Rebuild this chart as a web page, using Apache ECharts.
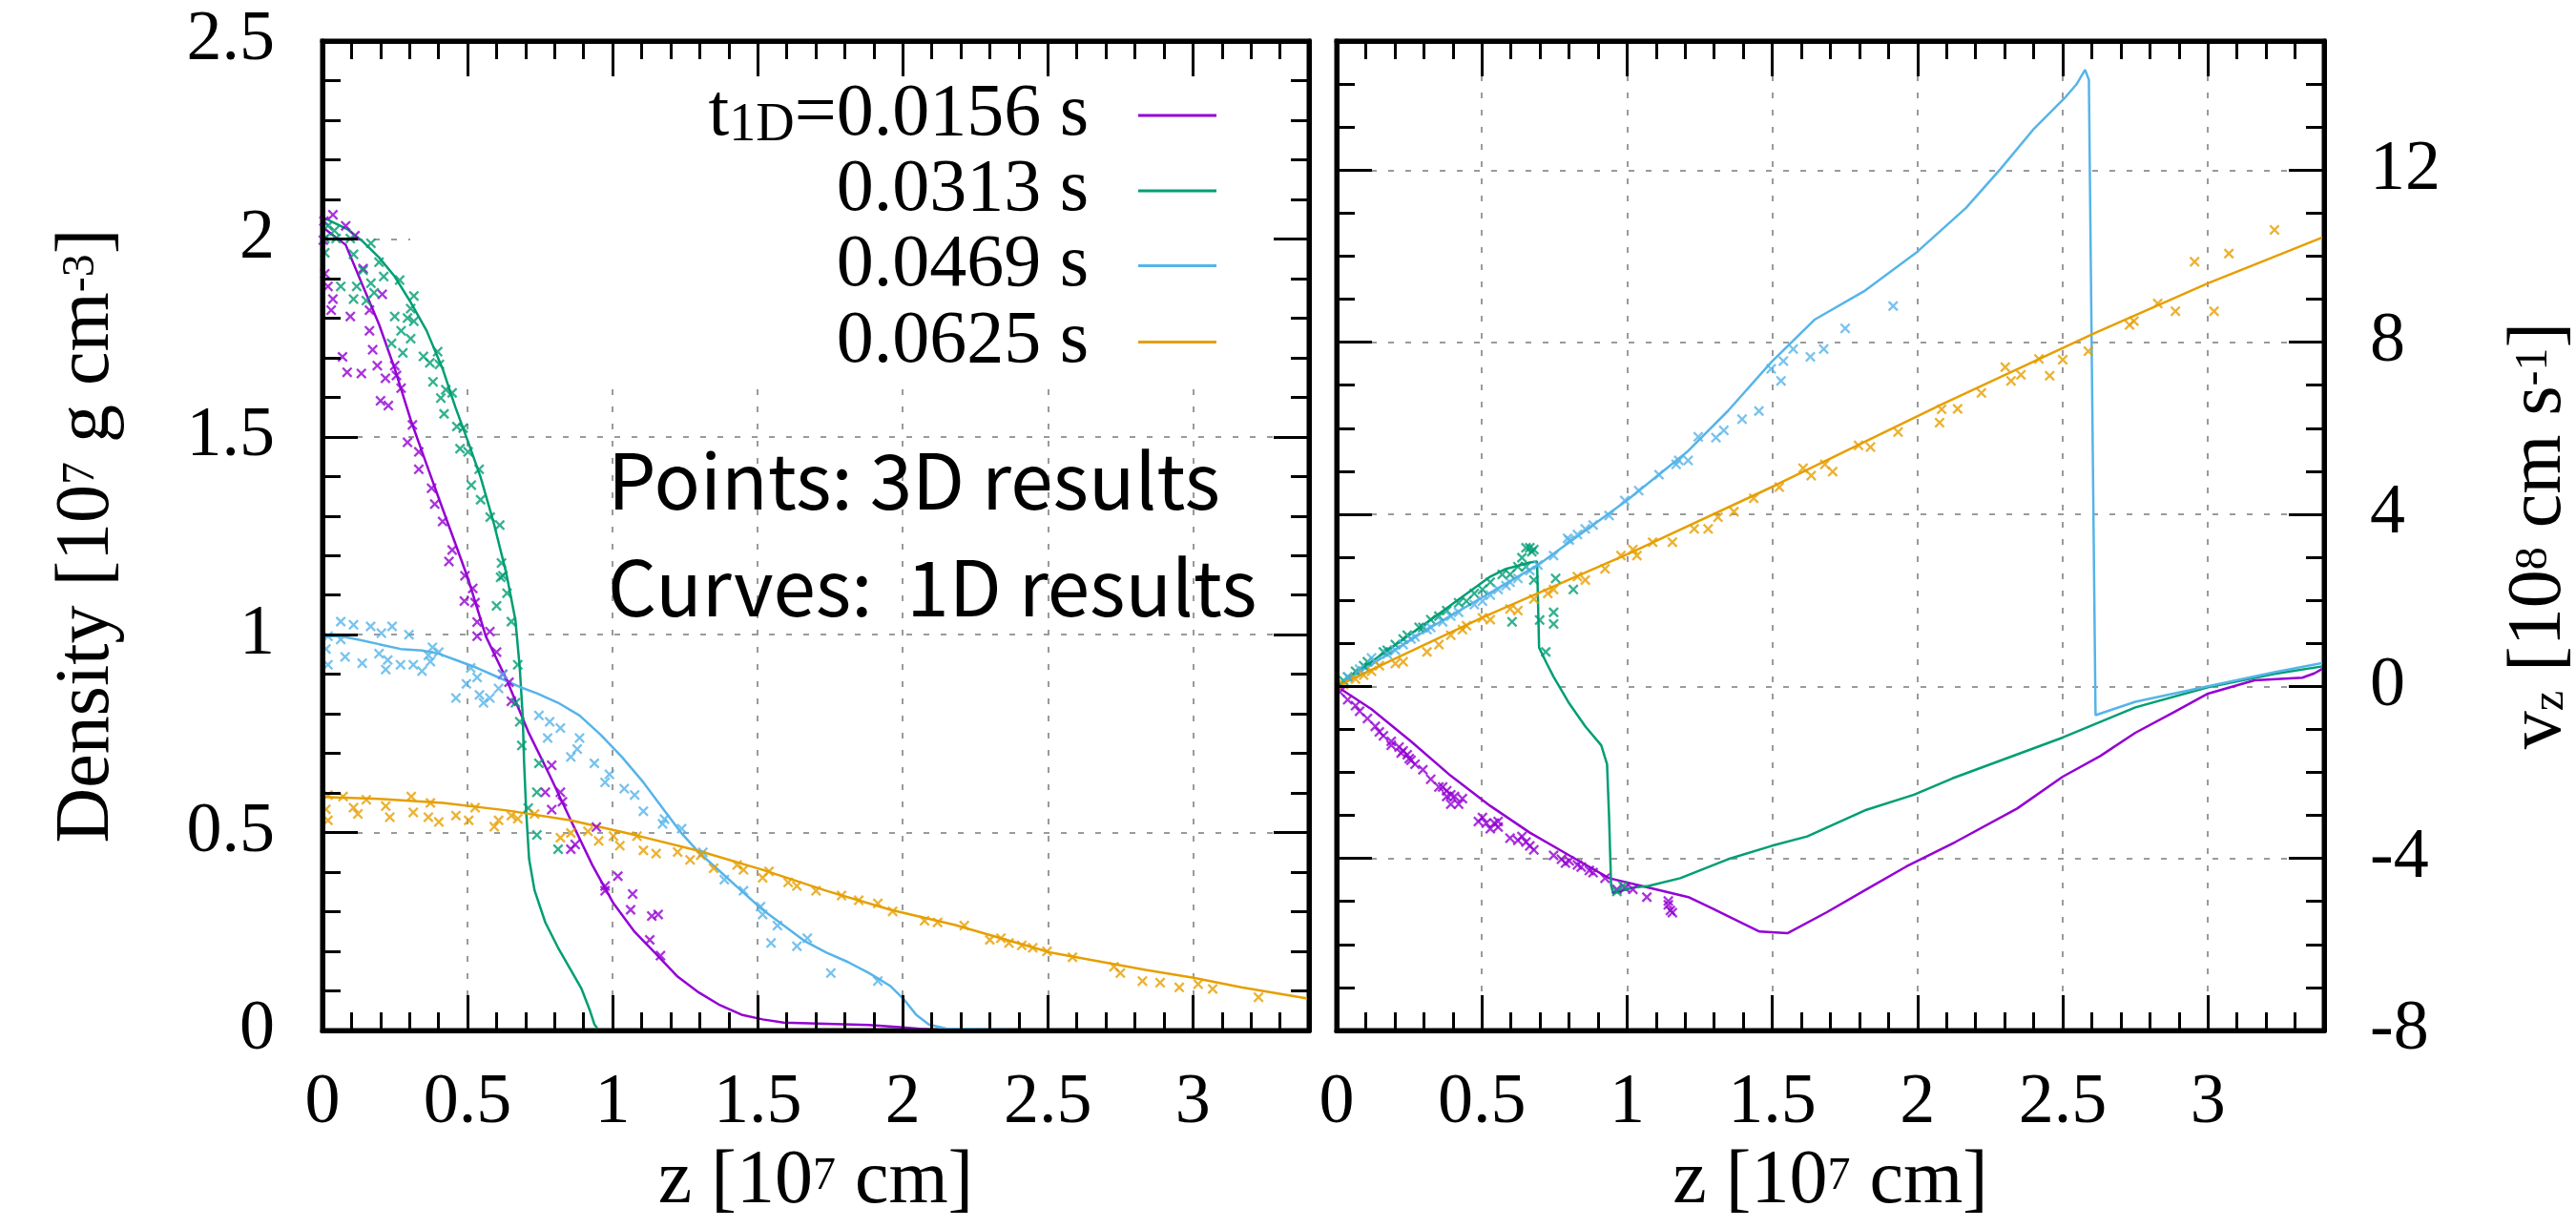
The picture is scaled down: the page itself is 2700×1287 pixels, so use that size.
<!DOCTYPE html>
<html>
<head>
<meta charset="utf-8">
<script src="https://cdn.jsdelivr.net/npm/echarts@6/dist/echarts.min.js"></script>
<style>
  html, body { margin: 0; padding: 0; background: #fff; }
  #chart { width: 2700px; height: 1287px; }
</style>
</head>
<body>
<div id="chart"></div>
<script>
// time labels of the four snapshots
const times = ['0.0156 s', '0.0313 s', '0.0469 s', '0.0625 s'];
const colors = ['#9400d3', '#009e73', '#56b4e9', '#e69f00'];

// x tick labels are 0..3 in steps of 0.5, density 0..2.5, velocity -8..12
const zRange = [0, 3.4];
const densRange = [0, 2.5];
const velRange = [-8, 15];

// ---- density, 1D curves [z, rho] ----
const densCurve0156 = [[0,2.03],[0.08,1.985],[0.14,1.88],[0.195,1.784],[0.249,1.672],[0.304,1.543],[0.359,1.43],[0.414,1.318],[0.458,1.23],[0.502,1.141],[0.563,0.996],[0.636,0.884],[0.709,0.755],[0.783,0.645],[0.856,0.531],[0.93,0.418],[1.003,0.321],[1.076,0.249],[1.15,0.193],[1.224,0.136],[1.297,0.096],[1.37,0.064],[1.444,0.04],[1.517,0.028],[1.59,0.02],[1.884,0.014],[2.0,0.008],[2.1,0.002]];
const densCurve0313 = [[0,2.055],[0.085,2.025],[0.14,1.993],[0.195,1.953],[0.249,1.905],[0.304,1.84],[0.359,1.768],[0.414,1.672],[0.458,1.575],[0.502,1.487],[0.545,1.398],[0.589,1.286],[0.633,1.157],[0.665,1.037],[0.68,0.916],[0.69,0.796],[0.695,0.675],[0.702,0.555],[0.712,0.434],[0.731,0.354],[0.768,0.273],[0.812,0.209],[0.856,0.153],[0.893,0.105],[0.922,0.05],[0.937,0.016],[0.95,0.002],[1.0,0.0]];
const densCurve0469 = [[0,0.996],[0.063,0.996],[0.122,0.988],[0.195,0.976],[0.269,0.964],[0.343,0.96],[0.401,0.952],[0.46,0.936],[0.533,0.916],[0.607,0.892],[0.68,0.868],[0.739,0.852],[0.812,0.828],[0.886,0.796],[0.959,0.747],[1.032,0.691],[1.106,0.627],[1.179,0.555],[1.238,0.498],[1.297,0.45],[1.37,0.402],[1.444,0.353],[1.517,0.305],[1.59,0.265],[1.664,0.225],[1.737,0.197],[1.811,0.173],[1.884,0.145],[1.958,0.112],[2.002,0.08],[2.046,0.04],[2.09,0.015],[2.15,0.005],[2.4,0.002]];
const densCurve0625 = [[0,0.59],[0.195,0.585],[0.416,0.575],[0.636,0.556],[0.856,0.531],[1.076,0.494],[1.297,0.454],[1.517,0.406],[1.737,0.353],[1.958,0.305],[2.178,0.267],[2.509,0.197],[2.837,0.153],[3.002,0.133],[3.167,0.109],[3.4,0.08]];

// ---- density, 3D points ----
const densPts0156 = [[0.036,2.061],[0.005,2.045],[0.003,1.997],[0.08,2.033],[0.112,2.008],[0.14,1.925],[0.008,1.912],[0.019,1.88],[0.036,1.848],[0.03,1.82],[0.096,1.804],[0.162,1.82],[0.206,1.86],[0.162,1.768],[0.173,1.72],[0.069,1.702],[0.085,1.663],[0.134,1.66],[0.189,1.68],[0.217,1.648],[0.249,1.68],[0.255,1.655],[0.271,1.623],[0.2,1.591],[0.227,1.579],[0.31,1.53],[0.293,1.486],[0.332,1.462],[0.332,1.418],[0.376,1.37],[0.387,1.33],[0.414,1.286],[0.447,1.214],[0.436,1.185],[0.491,1.149],[0.518,1.117],[0.489,1.085],[0.526,1.081],[0.533,1.032],[0.577,1.008],[0.533,0.996],[0.6,0.956],[0.621,0.9],[0.643,0.88],[0.651,0.832],[0.79,0.67],[0.82,0.602],[0.827,0.578],[0.768,0.602],[0.79,0.558],[0.871,0.47],[0.944,0.514],[0.856,0.458],[0.974,0.365],[1.018,0.39],[0.974,0.353],[1.069,0.345],[1.062,0.305],[1.135,0.289],[1.157,0.293],[1.128,0.229],[1.165,0.189]];
const densPts0313 = [[0.019,2.033],[0.041,2.021],[0.008,2.001],[0.047,2.001],[0.096,2.001],[0.167,1.989],[0.008,1.965],[0.107,1.961],[0.195,1.941],[0.14,1.921],[0.211,1.905],[0.266,1.896],[0.063,1.88],[0.118,1.88],[0.167,1.888],[0.178,1.864],[0.107,1.848],[0.151,1.844],[0.315,1.856],[0.304,1.824],[0.249,1.804],[0.293,1.8],[0.315,1.792],[0.271,1.768],[0.238,1.736],[0.304,1.748],[0.277,1.712],[0.348,1.703],[0.397,1.715],[0.37,1.687],[0.403,1.683],[0.381,1.639],[0.425,1.619],[0.408,1.598],[0.447,1.611],[0.419,1.558],[0.463,1.526],[0.485,1.522],[0.474,1.47],[0.502,1.462],[0.54,1.418],[0.513,1.378],[0.545,1.341],[0.578,1.297],[0.611,1.277],[0.617,1.181],[0.622,1.149],[0.614,1.145],[0.636,1.105],[0.6,1.073],[0.651,1.033],[0.673,0.924],[0.665,0.828],[0.68,0.78],[0.687,0.72],[0.746,0.675],[0.739,0.602],[0.709,0.562],[0.739,0.494],[0.812,0.458]];
const densPts0469 = [[0.063,1.033],[0.107,1.025],[0.166,1.021],[0.24,1.021],[0.203,1.004],[0.298,1.0],[0.019,0.996],[0.063,0.988],[0.012,0.964],[0.078,0.944],[0.137,0.928],[0.019,0.924],[0.195,0.952],[0.225,0.936],[0.218,0.912],[0.269,0.924],[0.313,0.924],[0.343,0.908],[0.365,0.948],[0.379,0.968],[0.401,0.956],[0.372,0.932],[0.511,0.916],[0.533,0.892],[0.496,0.876],[0.46,0.84],[0.541,0.848],[0.555,0.828],[0.577,0.84],[0.621,0.9],[0.607,0.864],[0.746,0.796],[0.783,0.78],[0.776,0.739],[0.82,0.764],[0.886,0.739],[0.878,0.711],[0.856,0.691],[0.937,0.675],[0.989,0.647],[0.974,0.627],[1.04,0.611],[1.076,0.595],[1.106,0.554],[1.179,0.534],[1.172,0.522],[1.238,0.51],[1.311,0.45],[1.385,0.381],[1.451,0.353],[1.51,0.313],[1.517,0.293],[1.568,0.265],[1.546,0.221],[1.635,0.213],[1.671,0.233],[1.752,0.145],[1.914,0.125]];
const densPts0625 = [[0.019,0.595],[0.012,0.559],[0.019,0.531],[0.071,0.591],[0.107,0.563],[0.122,0.547],[0.151,0.583],[0.218,0.567],[0.232,0.539],[0.306,0.591],[0.313,0.551],[0.372,0.575],[0.365,0.539],[0.401,0.527],[0.46,0.543],[0.504,0.531],[0.526,0.563],[0.592,0.515],[0.607,0.531],[0.651,0.543],[0.673,0.535],[0.731,0.547],[0.82,0.487],[0.856,0.499],[0.915,0.503],[0.952,0.479],[1.003,0.491],[1.025,0.467],[1.084,0.491],[1.106,0.455],[1.15,0.447],[1.224,0.451],[1.267,0.431],[1.304,0.443],[1.348,0.41],[1.429,0.418],[1.451,0.406],[1.517,0.386],[1.539,0.402],[1.605,0.374],[1.635,0.365],[1.701,0.353],[1.789,0.341],[1.848,0.329],[1.914,0.321],[1.965,0.301],[2.075,0.277],[2.12,0.273],[2.212,0.265],[2.3,0.229],[2.338,0.233],[2.366,0.221],[2.41,0.215],[2.448,0.209],[2.497,0.2],[2.585,0.185],[2.728,0.161],[2.75,0.145],[2.826,0.125],[2.887,0.121],[2.953,0.109],[3.018,0.117],[3.068,0.105],[3.226,0.084]];

// ---- velocity, 1D curves [z, v_z] ----
const velCurve0156 = [[0,0],[0.12,-0.53],[0.256,-1.28],[0.393,-2.08],[0.529,-2.78],[0.665,-3.4],[0.801,-3.93],[0.938,-4.46],[1.074,-4.68],[1.211,-4.9],[1.292,-5.16],[1.347,-5.34],[1.456,-5.7],[1.552,-5.74],[1.688,-5.25],[1.824,-4.72],[1.961,-4.19],[2.13,-3.62],[2.343,-2.84],[2.5,-2.1],[2.629,-1.62],[2.75,-1.08],[2.886,-0.59],[3.0,-0.17],[3.16,0.14],[3.325,0.2],[3.366,0.3],[3.4,0.43]];
const velCurve0313 = [[0,0],[0.12,0.57],[0.324,1.55],[0.529,2.55],[0.583,2.73],[0.624,2.8],[0.665,2.88],[0.69,2.9],[0.697,0.9],[0.722,0.55],[0.747,0.22],[0.801,-0.4],[0.856,-0.93],[0.911,-1.37],[0.931,-1.81],[0.938,-3.05],[0.945,-4.63],[0.952,-4.81],[1.02,-4.68],[1.074,-4.64],[1.183,-4.46],[1.347,-4.02],[1.497,-3.71],[1.62,-3.49],[1.824,-2.87],[1.988,-2.52],[2.12,-2.14],[2.5,-1.19],[2.75,-0.49],[3.0,-0.02],[3.229,0.29],[3.4,0.47]];
const velCurve0469 = [[0,0],[0.324,1.37],[0.693,2.82],[0.999,4.32],[1.21,5.47],[1.347,6.4],[1.497,7.54],[1.647,8.53],[1.815,9.18],[1.999,10.1],[2.167,11.12],[2.285,12.02],[2.402,12.97],[2.506,13.67],[2.547,13.99],[2.577,14.33],[2.59,14.1],[2.613,-0.67],[2.75,-0.36],[3.0,0.0],[3.229,0.33],[3.4,0.55]];
const velCurve0625 = [[0,0],[0.171,0.55],[0.502,1.6],[1.01,3.1],[1.51,4.67],[2.083,6.55],[2.61,8.21],[3.0,9.37],[3.4,10.45]];

// ---- velocity, 3D points ----
const velPts0156 = [[0.011,-0.13],[0.038,-0.31],[0.065,-0.45],[0.079,-0.58],[0.106,-0.75],[0.133,-0.93],[0.147,-1.06],[0.161,-1.15],[0.188,-1.28],[0.188,-1.37],[0.215,-1.41],[0.222,-1.55],[0.229,-1.5],[0.243,-1.59],[0.25,-1.68],[0.256,-1.72],[0.27,-1.81],[0.297,-1.94],[0.324,-2.16],[0.352,-2.34],[0.365,-2.34],[0.379,-2.43],[0.379,-2.56],[0.393,-2.52],[0.393,-2.74],[0.406,-2.56],[0.42,-2.74],[0.433,-2.61],[0.488,-3.14],[0.502,-3.05],[0.515,-3.18],[0.529,-3.31],[0.543,-3.18],[0.556,-3.27],[0.556,-3.14],[0.597,-3.53],[0.624,-3.58],[0.638,-3.49],[0.652,-3.62],[0.665,-3.71],[0.679,-3.8],[0.747,-3.93],[0.774,-4.02],[0.788,-4.11],[0.801,-4.06],[0.829,-4.15],[0.842,-4.2],[0.87,-4.28],[0.883,-4.33],[0.924,-4.46],[0.965,-4.72],[0.992,-4.68],[1.02,-4.72],[1.068,-4.9],[1.142,-4.99],[1.142,-5.08],[1.149,-5.21],[1.156,-5.26]];
const velPts0313 = [[0.024,0.13],[0.038,0.22],[0.065,0.35],[0.093,0.48],[0.106,0.57],[0.161,0.8],[0.174,0.84],[0.202,0.97],[0.229,1.1],[0.243,1.19],[0.284,1.37],[0.297,1.37],[0.324,1.55],[0.352,1.63],[0.379,1.76],[0.42,1.94],[0.447,1.98],[0.474,2.16],[0.502,2.25],[0.529,2.42],[0.57,2.6],[0.597,2.6],[0.624,2.78],[0.638,2.99],[0.652,3.22],[0.665,3.22],[0.672,3.13],[0.679,3.18],[0.652,2.78],[0.679,2.47],[0.754,2.51],[0.815,2.25],[0.604,1.5],[0.699,1.54],[0.747,1.72],[0.747,1.45],[0.72,0.8],[0.965,-4.77],[0.986,-4.64]];
const velPts0469 = [[0.038,0.22],[0.079,0.4],[0.12,0.66],[0.133,0.57],[0.174,0.75],[0.202,0.84],[0.229,0.97],[0.256,1.1],[0.27,1.15],[0.311,1.32],[0.324,1.37],[0.365,1.5],[0.393,1.63],[0.42,1.72],[0.474,1.9],[0.502,1.98],[0.529,2.12],[0.556,2.25],[0.583,2.34],[0.597,2.42],[0.624,2.51],[0.665,2.69],[0.693,2.82],[0.747,3.04],[0.795,3.44],[0.801,3.4],[0.829,3.53],[0.856,3.66],[0.883,3.75],[0.938,3.97],[0.992,4.32],[1.04,4.55],[1.11,4.92],[1.169,5.16],[1.178,5.25],[1.21,5.25],[1.245,5.8],[1.306,5.78],[1.333,5.95],[1.396,6.21],[1.454,6.4],[1.496,7.38],[1.53,7.1],[1.538,7.56],[1.572,7.84],[1.631,7.66],[1.677,7.84],[1.751,8.32],[1.916,8.84]];
const velPts0625 = [[0.024,0.04],[0.065,0.17],[0.093,0.26],[0.12,0.35],[0.147,0.48],[0.202,0.53],[0.229,0.57],[0.311,0.8],[0.352,0.97],[0.393,1.19],[0.433,1.32],[0.447,1.41],[0.502,1.59],[0.529,1.55],[0.597,1.8],[0.624,1.76],[0.679,2.03],[0.727,2.16],[0.747,2.25],[0.829,2.55],[0.856,2.47],[0.924,2.73],[0.979,3.04],[1.02,3.18],[1.034,3.04],[1.088,3.35],[1.156,3.35],[1.231,3.66],[1.279,3.66],[1.313,3.93],[1.368,4.06],[1.436,4.37],[1.524,4.63],[1.606,5.07],[1.634,4.9],[1.681,5.16],[1.708,4.99],[1.797,5.6],[1.838,5.56],[1.933,5.91],[2.076,6.13],[2.083,6.44],[2.138,6.45],[2.22,6.82],[2.302,7.42],[2.322,7.1],[2.356,7.24],[2.418,7.61],[2.455,7.22],[2.5,7.59],[2.588,7.79],[2.73,8.4],[2.745,8.49],[2.827,8.9],[2.888,8.72],[2.954,9.87],[3.021,8.72],[3.072,10.06],[3.229,10.61]];

const densCurves = [densCurve0156, densCurve0313, densCurve0469, densCurve0625];
const densPts = [densPts0156, densPts0313, densPts0469, densPts0625];
const velCurves = [velCurve0156, velCurve0313, velCurve0469, velCurve0625];
const velPts = [velPts0156, velPts0313, velPts0469, velPts0625];

const serif = '"Liberation Serif", "Times New Roman", serif';
const cross = 'path://M0,1.5L1.5,0L5,3.5L8.5,0L10,1.5L6.5,5L10,8.5L8.5,10L5,6.5L1.5,10L0,8.5L3.5,5Z';

// rich styles for super/subscripts in axis titles
const titleRich = {
  n: { fontFamily: serif, fontSize: 80, lineHeight: 80, verticalAlign: 'middle', color: '#000' },
  sup: { fontFamily: serif, fontSize: 48, lineHeight: 48, verticalAlign: 'top', padding: [10, 0, 82, 0], color: '#000' },
  sub: { fontFamily: serif, fontSize: 48, lineHeight: 48, verticalAlign: 'bottom', padding: [87, 0, 5, 0], color: '#000' }
};
const legendRich = {
  n: { fontFamily: serif, fontSize: 78, lineHeight: 78, verticalAlign: 'middle', color: '#000' },
  sub: { fontFamily: serif, fontSize: 56, lineHeight: 56, verticalAlign: 'bottom', padding: [53, 0, 0, 0], color: '#000' }
};

const chart = echarts.init(document.getElementById('chart'));

function minor (n) {
  return { show: true, splitNumber: n, length: 19, lineStyle: { color: '#000', width: 3 } }
}
// framed axis with inward ticks, like gnuplot's border
function frameAxis (opts) {
  return Object.assign({
    type: 'value',
    axisLine: { show: true, onZero: false, lineStyle: { color: '#000', width: 5 } },
    axisTick: { show: true, inside: true, length: 37, lineStyle: { color: '#000', width: 3 } },
    axisLabel: { show: false },
    splitLine: { show: false }
  }, opts)
}
const gridLine = { show: true, lineStyle: { color: '#9a9a9a', width: 2, type: [6, 12] } };
// axis that only draws dashed grid lines
function gridAxis (opts) {
  return Object.assign({
    type: 'value',
    axisLine: { show: false }, axisTick: { show: false }, axisLabel: { show: false },
    minorTick: { show: false }, splitLine: gridLine
  }, opts)
}
function hiddenAxis (g) {
  return { type: 'value', gridIndex: g, show: false, min: 0, max: 1 }
}

const labelStyle = { show: true, fontFamily: serif, fontSize: 74, color: '#000' };
const zName = { name: '{n|z [10}{sup|7}{n| cm]}', nameLocation: 'middle', nameGap: 90, nameTextStyle: { rich: titleRich } };

const xAxes = [
  // 0,1: density panel
  frameAxis(Object.assign({ gridIndex: 0, position: 'bottom', min: zRange[0], max: zRange[1], interval: 0.5, z: 12,
    minorTick: minor(5), axisLabel: Object.assign({}, labelStyle, { margin: 40, showMaxLabel: false }) }, zName)),
  frameAxis({ gridIndex: 0, position: 'top', min: zRange[0], max: zRange[1], interval: 0.5, z: 12, minorTick: minor(5) }),
  // 2,3: velocity panel
  frameAxis(Object.assign({ gridIndex: 1, position: 'bottom', min: zRange[0], max: zRange[1], interval: 0.5, z: 12,
    minorTick: minor(5), axisLabel: Object.assign({}, labelStyle, { margin: 40, showMaxLabel: false }) }, zName)),
  frameAxis({ gridIndex: 1, position: 'top', min: zRange[0], max: zRange[1], interval: 0.5, z: 12, minorTick: minor(5) }),
  // 4: vertical grid lines of the density panel, below the key
  gridAxis({ gridIndex: 2, min: zRange[0], max: zRange[1], interval: 0.5 }),
  hiddenAxis(3),
  hiddenAxis(4),
  // 7: vertical grid lines of the velocity panel
  gridAxis({ gridIndex: 1, position: 'bottom', offset: 0, min: zRange[0], max: zRange[1], interval: 0.5 })
];
const yAxes = [
  frameAxis({ gridIndex: 0, position: 'left', min: densRange[0], max: densRange[1], interval: 0.5, z: 12,
    minorTick: minor(5), axisLabel: Object.assign({}, labelStyle, { margin: 50 }),
    name: '{n|Density [10}{sup|7}{n| g cm}{sup|-3}{n|]}',
    nameLocation: 'middle', nameRotate: 90, nameGap: 152, nameTextStyle: { rich: titleRich } }),
  frameAxis({ gridIndex: 0, position: 'right', min: densRange[0], max: densRange[1], interval: 0.5, z: 12, minorTick: minor(5) }),
  frameAxis({ gridIndex: 1, position: 'left', min: velRange[0], max: velRange[1], interval: 4, z: 12, minorTick: minor(4) }),
  frameAxis({ gridIndex: 1, position: 'right', min: velRange[0], max: velRange[1], interval: 4, z: 12,
    minorTick: minor(4), axisLabel: Object.assign({}, labelStyle, { margin: 48, showMaxLabel: false }),
    name: '{n|v}{sub|z}{n| [10}{sup|8}{n| cm s}{sup|-1}{n|]}',
    nameLocation: 'middle', nameRotate: 90, nameGap: 132, nameTextStyle: { rich: titleRich } }),
  hiddenAxis(2),
  // 5: horizontal grid lines 0..1.5 across the density panel
  gridAxis({ gridIndex: 3, min: 0, max: 1.5, interval: 0.5 }),
  // 6: horizontal grid lines in the strip left of the key
  gridAxis({ gridIndex: 4, min: densRange[0], max: densRange[1], interval: 0.5 }),
  // 7: horizontal grid lines of the velocity panel
  gridAxis({ gridIndex: 1, position: 'left', min: velRange[0], max: velRange[1], interval: 4 })
];

const series = [];
times.forEach((t, i) => {
  series.push({
    name: '3D ' + t, type: 'scatter', xAxisIndex: 0, yAxisIndex: 0, z: 10,
    data: densPts[i], symbol: cross, symbolSize: 11, itemStyle: { color: colors[i] }, silent: true
  });
  series.push({
    name: '3D ' + t, type: 'scatter', xAxisIndex: 2, yAxisIndex: 3, z: 10,
    data: velPts[i], symbol: cross, symbolSize: 11, itemStyle: { color: colors[i] }, silent: true
  });
});
times.forEach((t, i) => {
  series.push({
    name: t, type: 'line', xAxisIndex: 0, yAxisIndex: 0, z: 10, data: densCurves[i],
    showSymbol: false, symbol: 'none', lineStyle: { color: colors[i], width: 2.5 },
    itemStyle: { color: colors[i] }, silent: true
  });
  series.push({
    name: t, type: 'line', xAxisIndex: 2, yAxisIndex: 3, z: 10, data: velCurves[i],
    showSymbol: false, symbol: 'none', lineStyle: { color: colors[i], width: 2.5 },
    itemStyle: { color: colors[i] }, silent: true
  });
});

// one legend per row so the samples line up on the right like gnuplot's key
const legendTops = [51, 161, 239.5, 319.5];
const legends = times.map((t, i) => ({
  data: [t], z: 20,
  orient: 'vertical', align: 'right', right: 1425, top: legendTops[i],
  padding: 0, icon: 'rect', itemWidth: 82, itemHeight: 3, selectedMode: false,
  formatter: () => i === 0 ? '{n|t}{sub|1D}{n|=' + t + '}' : '{n|' + t + '}',
  textStyle: { padding: [0, 47, 0, 0], rich: legendRich }
}));

const panelTop = 43, panelH = 1037;
const option = {
  animation: false,
  backgroundColor: '#fff',
  grid: [
    { left: 338, top: panelTop, width: 1034, height: panelH, show: true, borderColor: '#000', borderWidth: 5, outerBoundsMode: 'none' },
    { left: 1401, top: panelTop, width: 1035, height: panelH, show: true, borderColor: '#000', borderWidth: 5, outerBoundsMode: 'none' },
    // helper grids for the density panel grid lines, which stop at the key box
    { left: 338, top: 408, width: 1034, height: 672, outerBoundsMode: 'none' },
    { left: 338, top: panelTop + panelH * 0.4, width: 1034, height: panelH * 0.6, outerBoundsMode: 'none' },
    { left: 338, top: panelTop, width: 92, height: panelH, outerBoundsMode: 'none' }
  ],
  xAxis: xAxes,
  yAxis: yAxes,
  legend: legends,
  graphic: [
    { type: 'text', z: 20, x: 637, y: 504, style: { text: 'Points: 3D results', fontFamily: '"Noto Sans CJK JP"', fontSize: 80, fill: '#000', align: 'left', verticalAlign: 'middle' } },
    { type: 'text', z: 20, x: 637, y: 616, style: { text: 'Curves:  1D results', fontFamily: '"Noto Sans CJK JP"', fontSize: 80, fill: '#000', align: 'left', verticalAlign: 'middle' } }
  ],
  series: series
};
chart.setOption(option);
</script>
</body>
</html>
